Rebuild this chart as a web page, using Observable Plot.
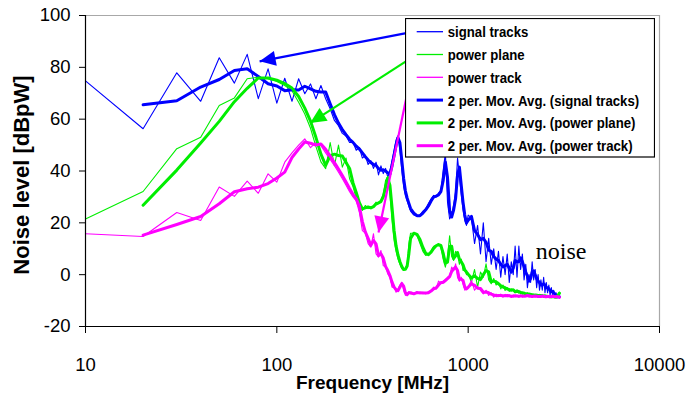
<!DOCTYPE html>
<html><head><meta charset="utf-8">
<script src="https://cdn.jsdelivr.net/npm/d3@7"></script>
<script src="https://cdn.jsdelivr.net/npm/@observablehq/plot@0.6"></script>
<style>
body{margin:0;background:#fff;}
#wrap{position:relative;width:686px;height:401px;overflow:hidden;}
#legend{position:absolute;left:405px;top:18px;}
</style></head><body><div id="wrap"></div>
<script>
// ---- data (frequency in MHz, noise level in dBpW) ----
const freq = [10,20,30,40,50,60,70,80,90,100,
110,120,130,140,150,160,170,180,190,200,
210,220,230,240,250,260,270,280,290,300,
310,320,330,340,350,360,370,380,390,400,
410,420,430,440,450,460,470,480,490,500,
520,540,560,580,600,620,640,660,680,700,
720,740,760,780,800,820,840,860,880,900,
920,940,960,980,1000,
1040,1080,1120,1160,1200,1240,1280,1320,1360,1400,
1440,1480,1520,1560,1600,1640,1680,1720,1760,1800,
1840,1880,1920,1960,2000,2040,2080,2120,2160,2200,
2240,2280,2320,2360,2400,2440,2480,2520,2560,2600,
2640,2680,2720,2760,2800,2840,2880,2920,2960,3000];

const signalTracks = [74.8,56.3,77.9,66.9,83.7,73.9,85.0,67.9,79.4,66.2,
75.8,66.9,75.6,69.8,73.6,67.9,73.0,67.9,64.0,59.5,
57.5,54.5,53.5,51.0,51.1,48.0,49.0,45.0,46.0,42.5,
44.0,41.0,43.4,38.5,42.0,39.0,41.0,37.6,40.0,44.0,
48.0,52.0,53.7,48.0,40.2,34.0,30.5,28.5,26.5,24.5,
23.0,22.5,23.0,24.5,25.5,27.5,29.3,30.6,30.0,31.5,
32.5,40.0,47.0,28.0,21.5,23.0,27.0,32.0,45.0,38.0,
31.0,25.0,21.0,19.0,23.0,
22,12,19,8,20,5,14,4,10,2,
9,-1,7,0,8,-3,5,0,11,-1,
11,2,8,-2,4,-5,0,-3,5,-2,
2,-5,0,-6,-2,-6,-1,-7,-3,-7,
-4,-8,-5,-8,-6,-9,-7,-9,-8,-9];

const powerPlane = [21.5,32.1,48.6,53.0,65.3,68.2,75.6,76.2,75.6,74.5,
73.0,71.0,66.5,62.0,56.5,49.5,43.5,40.9,51.0,42.0,
50.0,41.5,45.0,37.0,34.0,29.5,26.0,24.8,26.7,25.5,
26.0,26.5,28.0,27.4,29.0,31.0,36.3,38.0,31.0,20.9,
13.2,9.0,6.0,4.0,2.3,1.6,2.5,4.2,12.0,16.0,
16.0,15.1,12.0,9.0,7.4,8.0,9.3,11.0,11.3,11.9,
10.6,6.0,2.9,6.8,15.0,7.0,5.5,9.0,8.0,4.0,
6.0,1.6,2.0,0.0,0.3,
-2.9,2,-4.8,1,-1,4.2,-2,-3.5,-1.5,-4,
-3,-5.5,-4,-6.1,-5,-6.5,-5.5,-6.1,-7,-5.8,
-7.2,-6.5,-7.5,-6.8,-8,-7,-8,-7.2,-8.3,-7.5,
-8.2,-7.6,-8.5,-7.6,-8.4,-7.8,-8.6,-7.8,-8.8,-8,
-8.8,-8.2,-8.9,-8.2,-8.8,-8.5,-8.9,-8,-7.5,-6.8];

const powerTrack = [15.8,14.7,24.0,20.9,33.8,30.2,36.1,31.4,38.9,35.7,
43.4,47.0,50.0,52.4,49.0,51.0,49.8,47.0,44.5,42.0,
39.5,37.0,34.5,32.0,30.0,28.5,24.0,17.0,16.0,12.0,
10.6,15.8,8.0,6.8,9.3,3.5,2.9,0.3,-1.0,-4.8,
-4.8,-6.8,-5.5,-4.0,-2.9,-6.0,-8.0,-7.4,-6.5,-7.4,
-7.4,-6.5,-7.4,-6.8,-7.4,-6.5,-6.1,-4.8,-5.5,-2.5,
-3.5,-2.5,-2.0,-1.0,-0.5,2.9,1.6,4.2,-1.0,-2.5,
-1.0,-3.5,-6.0,-5.0,-4.8,
-2.2,-6,-4.5,-6.1,-7.4,-6,-8,-7,-8.7,-7.5,
-8.5,-7.5,-8.7,-7.6,-8.5,-7.8,-8.8,-7.8,-8.5,-8,
-8.7,-7.8,-8.7,-8,-8.5,-7.6,-8.7,-8,-8.8,-7.8,
-8.6,-8,-8.8,-8.1,-8.7,-7.8,-8.8,-8.2,-8.8,-8,
-8.9,-8.1,-8.7,-8,-8.8,-8.2,-8.7,-8.3,-8.8,-8.6];

const seriesNames = ["signal tracks", "power plane", "power track"];
const seriesColors = ["#0000ff", "#00ee00", "#ff00ff"];
const avgPrefix = "2 per. Mov. Avg. ";
const xTicks = [10, 100, 1000, 10000];
const yTicks = [-20, 0, 20, 40, 60, 80, 100];
const xTitle = "Frequency [MHz]";
const yTitle = "Noise level [dBpW]";
// annotation arrows: from legend entry to the curve (data units)
const arrowFrom = [[538, 94.0], [519, 84.2], [501, 76.5]];
const arrowTo = [[81.3, 82.3], [149.3, 58.5], [340, 16.3]];
const noteText = [{f: 2257, v: 6.2, text: "noise"}];

// ---- build tables ----
const seriesValues = [signalTracks, powerPlane, powerTrack];
const rows = [];
seriesNames.forEach((name, k) => {
  freq.forEach((f, i) => rows.push({series: name, f, v: seriesValues[k][i]}));
});
const arrows = seriesNames.map((name, k) => ({
  series: name, f1: arrowFrom[k][0], v1: arrowFrom[k][1], f2: arrowTo[k][0], v2: arrowTo[k][1]
}));

function filledArrow(color) {
  const m = d3.create("svg:marker")
    .attr("viewBox", "-16 -8 16 16")
    .attr("markerWidth", 16).attr("markerHeight", 16)
    .attr("markerUnits", "userSpaceOnUse")
    .attr("refX", 0).attr("refY", 0)
    .attr("orient", "auto")
    .attr("overflow", "visible")
    .attr("fill", color).attr("stroke", "none");
  m.append("path").attr("d", "M-16,-7.5L0,0L-16,7.5Z");
  return m.node();
}

const chart = Plot.plot({
  width: 686, height: 401,
  marginLeft: 85, marginRight: 27, marginTop: 15, marginBottom: 75,
  style: {fontFamily: "'Liberation Sans', Arial, sans-serif", fontSize: "18.5px", background: "white", color: "black", overflow: "visible"},
  x: {type: "log", domain: [10, 10000], ticks: xTicks, tickFormat: d => String(d), tickSize: 7, tickPadding: 24, label: null},
  y: {domain: [-20, 100], ticks: yTicks, tickFormat: d => String(d), tickSize: 6, tickPadding: 9, label: null},
  color: {domain: seriesNames, range: seriesColors},
  marks: [
    Plot.ruleY([100], {stroke: "#a8a8a8", strokeWidth: 1.2}),
    Plot.ruleX([10000], {stroke: "#a8a8a8", strokeWidth: 1.2}),
    Plot.line(rows, {x: "f", y: "v", z: "series", stroke: "series", strokeWidth: 1.1}),
    Plot.line(rows, Plot.windowY({k: 2, anchor: "end", strict: true, reduce: "mean"},
      {x: "f", y: "v", z: "series", stroke: "series", strokeWidth: 3})),
    Plot.ruleX([10], {stroke: "black", strokeWidth: 1.2}),
    Plot.ruleY([-20], {stroke: "black", strokeWidth: 1.2}),
    Plot.link(arrows, {x1: "f1", y1: "v1", x2: "f2", y2: "v2", stroke: "series", strokeWidth: 2.2, markerEnd: filledArrow}),
    Plot.text(noteText, {x: "f", y: "v", text: "text", textAnchor: "start", lineAnchor: "bottom",
      fontFamily: "'Liberation Serif', 'Times New Roman', serif", fontSize: 24}),
    Plot.text([xTitle], {text: d => d, frameAnchor: "bottom", textAnchor: "middle", lineAnchor: "middle", dy: 56, fontSize: 19, fontWeight: "bold"}),
    Plot.text([yTitle], {text: d => d, frameAnchor: "left", textAnchor: "middle", lineAnchor: "middle", rotate: -90, dx: -64, dy: 4, fontSize: 22, fontWeight: "bold"})
  ]
});
const wrap = document.getElementById("wrap");
wrap.appendChild(chart);

// ---- legend overlay ----
const legendLabels = seriesNames.concat(seriesNames.map(n => avgPrefix + "(" + n + ")"));
const leg = d3.select(wrap).append("div").attr("id", "legend")
  .append("svg").attr("width", 250).attr("height", 140);
leg.append("rect").attr("x", 0.5).attr("y", 0.5).attr("width", 249).attr("height", 138.5)
  .attr("fill", "white").attr("stroke", "black").attr("stroke-width", 1.2);
legendLabels.forEach((lab, i) => {
  const y = 13.7 + i * 22.8;
  leg.append("line").attr("x1", 11.7).attr("x2", 38).attr("y1", y).attr("y2", y)
    .attr("stroke", seriesColors[i % 3]).attr("stroke-width", i < 3 ? 1.3 : 3);
  leg.append("text").attr("transform", `translate(42.7,${y}) scale(0.88,1)`).attr("dy", "0.36em")
    .attr("font-family", "'Liberation Sans', Arial, sans-serif").attr("font-weight", "bold")
    .attr("font-size", "15px").attr("fill", "black").text(lab);
});
</script></body></html>
